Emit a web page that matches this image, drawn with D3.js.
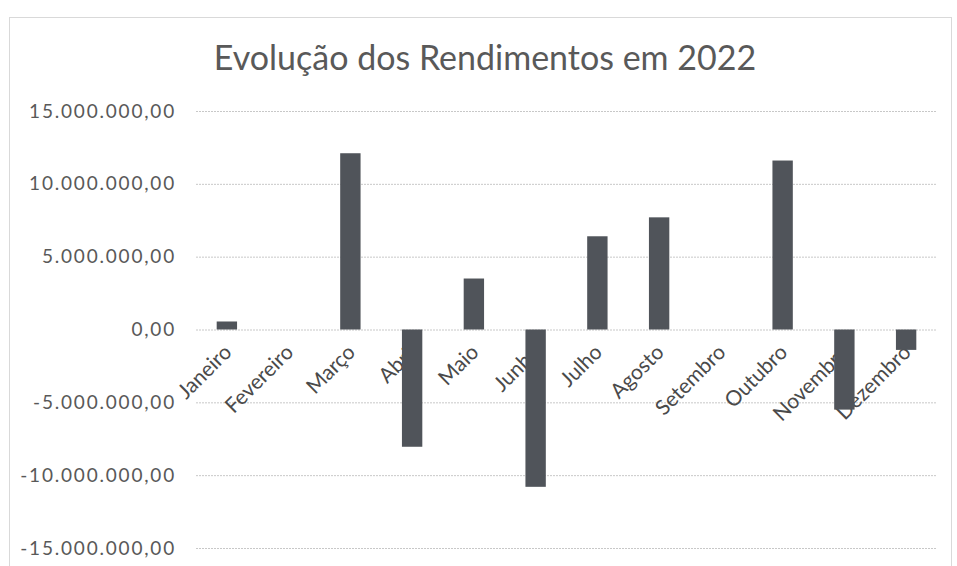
<!DOCTYPE html>
<html>
<head>
<meta charset="utf-8">
<script src="https://cdn.jsdelivr.net/npm/d3@7"></script>
<style>
  body { margin: 0; background: #fff; }
  text { font-family: Lato, "Open Sans", sans-serif; }
</style>
</head>
<body>
<div id="chart-area"></div>
<script>
// chart data
const months = ["Janeiro", "Fevereiro", "Março", "Abril", "Maio", "Junho",
  "Julho", "Agosto", "Setembro", "Outubro", "Novembro", "Dezembro"];
const rendimentos = [550000, 0, 12100000, -8050000, 3500000, -10800000,
  6400000, 7700000, 0, 11600000, -5500000, -1400000];
const yTicks = [15000000, 10000000, 5000000, 0, -5000000, -10000000, -15000000];
const chartTitle = "Evolução dos Rendimentos em 2022";

// margins
const margin = { left: 196, right: 20, top: 111, bottom: 18 };
const W = 957, H = 566;
const width = W - margin.left - margin.right;
const height = H - margin.top - margin.bottom;

const svg = d3.select("#chart-area")
  .append("svg")
    .attr("width", W)
    .attr("height", H);

// chart border
svg.append("rect")
  .attr("x", 9.5).attr("y", 17.5)
  .attr("width", 942).attr("height", 560)
  .attr("fill", "none")
  .attr("stroke", "#d9d9d9");

// title
svg.append("text")
  .attr("x", 485)
  .attr("y", 70)
  .attr("text-anchor", "middle")
  .attr("font-size", "34px")
  .attr("fill", "#595959")
  .text(chartTitle);

const g = svg.append("g")
  .attr("transform", "translate(" + margin.left + "," + margin.top + ")");

// scales
const x = d3.scaleBand()
  .domain(months)
  .range([0, width])
  .paddingInner(0.67)
  .paddingOuter(0.335);

const y = d3.scaleLinear()
  .domain([-15000000, 15000000])
  .range([height, 0]);

// pt-BR style number format: 15.000.000,00
const fmt = d3.formatLocale({ decimal: ",", thousands: ".", grouping: [3], currency: ["", ""], minus: "-" }).format(",.2f");

// gridlines + y labels
const yAxisCall = d3.axisLeft(y)
  .tickValues(yTicks)
  .tickSize(-width)
  .tickPadding(20)
  .tickFormat(fmt);
const yAxis = g.append("g")
  .attr("class", "y axis")
  .call(yAxisCall);
yAxis.select(".domain").remove();
yAxis.selectAll("line")
  .attr("stroke", "#c8c8c8")
  .attr("stroke-dasharray", "2,1");
yAxis.selectAll("text")
  .attr("font-size", "19px")
  .attr("letter-spacing", "1.8px")
  .attr("fill", "#595959");

// category labels, rotated (drawn under the bars, like the original)
g.selectAll("text.cat")
  .data(months)
  .enter()
  .append("text")
    .attr("class", "cat")
    .attr("transform", d => "translate(" + (x(d) + x.bandwidth() / 2 + 6) + "," + (y(0) + 24) + ") rotate(-45)")
    .attr("text-anchor", "end")
    .attr("font-size", "21px")
    .attr("fill", "#4a4a4a")
    .text(d => d);

// bars
g.selectAll("rect.bar")
  .data(rendimentos)
  .enter()
  .append("rect")
    .attr("class", "bar")
    .attr("x", (d, i) => x(months[i]))
    .attr("y", d => y(Math.max(0, d)))
    .attr("width", x.bandwidth())
    .attr("height", d => Math.abs(y(d) - y(0)))
    .attr("fill", "#50545a");
</script>
</body>
</html>
